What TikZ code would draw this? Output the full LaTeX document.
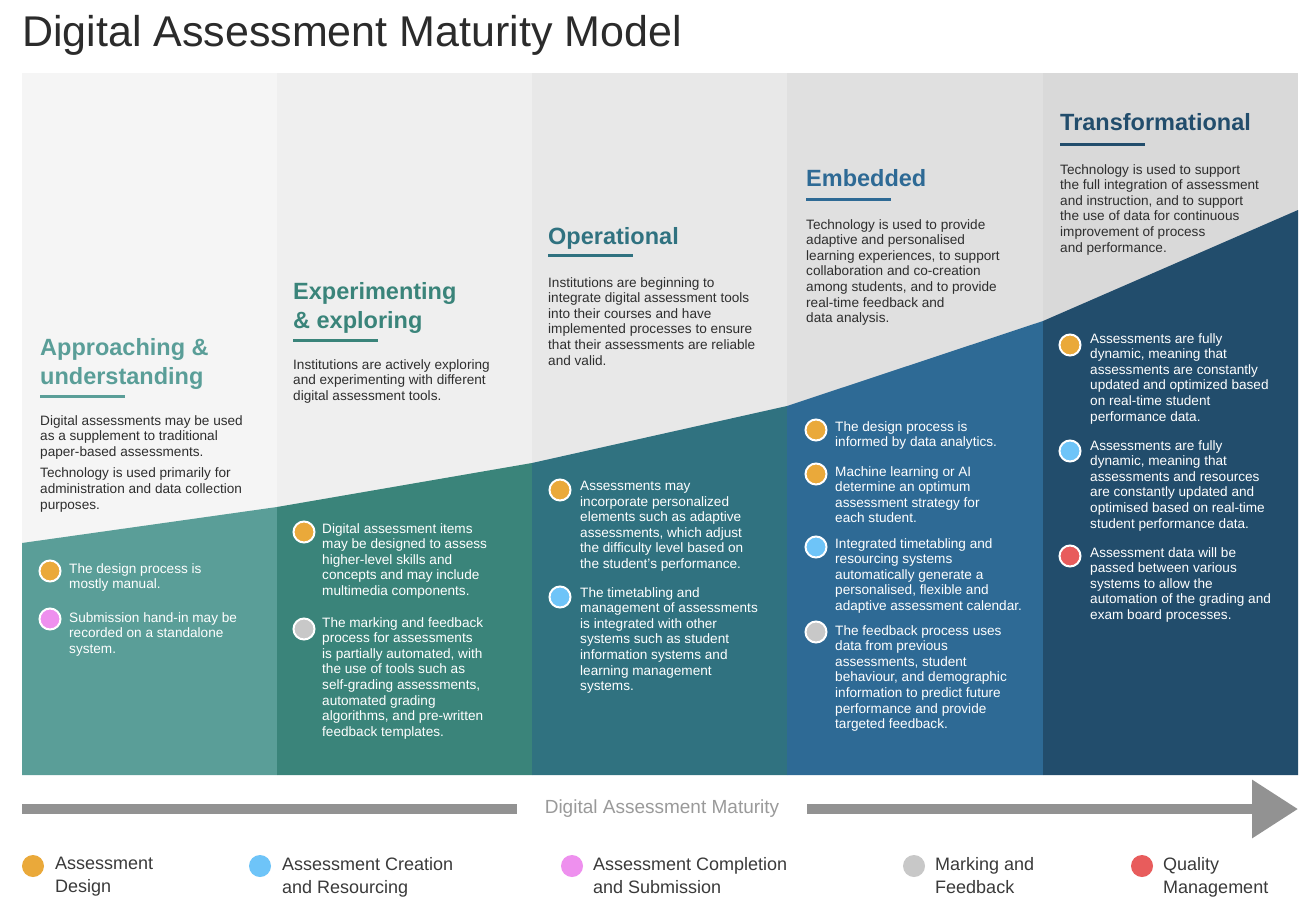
\documentclass[tikz,border=0pt]{standalone}
\usepackage{fontspec}
\setmainfont{Liberation Sans}
\usepackage{xcolor}
\usepackage{tikz}
\usetikzlibrary{positioning,arrows.meta}
\definecolor{inkgray}{HTML}{2B2B2B}
\definecolor{bodygray}{HTML}{2E2E2E}
\definecolor{keygray}{HTML}{3A3A3A}
\definecolor{arrowgray}{HTML}{929292}
\definecolor{labelgray}{HTML}{9A9A9A}
\definecolor{topA}{HTML}{F5F5F5}
\definecolor{topB}{HTML}{EFEFEF}
\definecolor{topC}{HTML}{E8E8E8}
\definecolor{topD}{HTML}{E0E0E0}
\definecolor{topE}{HTML}{D9D9D9}
\definecolor{stageA}{HTML}{5A9E98}
\definecolor{stageB}{HTML}{3A847A}
\definecolor{stageC}{HTML}{307280}
\definecolor{stageD}{HTML}{2E6A95}
\definecolor{stageE}{HTML}{224D6C}
\definecolor{dotdesign}{HTML}{EAA93A}
\definecolor{dotcreate}{HTML}{6EC4F8}
\definecolor{dotsubmit}{HTML}{EE90EE}
\definecolor{dotmark}{HTML}{C8C8C8}
\definecolor{dotquality}{HTML}{E85C5C}

\begin{document}
\begin{tikzpicture}[
    x=1pt, y=-1pt,
    stagetitle/.style={anchor=north west, inner sep=0pt, align=left, font=\fontsize{23.5}{29}\selectfont\bfseries, text=#1},
    stagetext/.style={anchor=north west, inner sep=0pt, align=left, font=\fontsize{13.6}{15.6}\selectfont, text=bodygray},
    itemtext/.style={anchor=north west, inner sep=0pt, align=left, font=\fontsize{13.6}{15.6}\selectfont, text=white},
    itemdot/.style={circle, fill=#1, draw=white, line width=2pt, minimum size=21pt, inner sep=0pt},
    keydot/.style={circle, fill=#1, minimum size=22pt, inner sep=0pt},
    keytext/.style={anchor=north west, inner sep=0pt, align=left, font=\fontsize{18}{23}\selectfont, text=keygray},
    rule/.style={line width=3pt, #1},
]
    \useasboundingbox (0,0) rectangle (1316,918);
    \fill[white] (0,0) rectangle (1316,918);

    % Title
    \node[anchor=north west, inner sep=0pt, font=\fontsize{43}{50}\selectfont, text=inkgray] (title) at (22,15) {Digital Assessment Maturity Model};

    % Five stage columns, light top and coloured bottom
    \foreach \xa/\xb/\ya/\yb/\tc/\bc in {22/277/543/507/topA/stageA, 277/532/507/463/topB/stageB, 532/787/463/406/topC/stageC, 787/1043/406/321/topD/stageD, 1043/1298/321/210/topE/stageE} {
        \fill[\tc] (\xa,73) rectangle (\xb,775);
        \fill[\bc] (\xa,\ya) -- (\xb,\yb) -- (\xb,775) -- (\xa,775) -- cycle;
    }

    % Approaching & understanding
    \node[stagetitle=stageA] (t1) at (40,338) {Approaching \&\\understanding};
    \draw[rule=stageA] (40,396) -- ++(85,0);
    \node[stagetext] (d1) at (40,415) {Digital assessments may be used\\as a supplement to traditional\\paper-based assessments.\\[6pt]Technology is used primarily for\\administration and data collection\\purposes.};
    \node[itemdot=dotdesign] (b1a) at (50,571) {};
    \node[itemtext] (i1a) at (69,563) {The design process is\\mostly manual.};
    \node[itemdot=dotsubmit] (b1b) at (50,619) {};
    \node[itemtext] (i1b) at (69,612) {Submission hand-in may be\\recorded on a standalone\\system.};

    % Experimenting & exploring
    \node[stagetitle=stageB] (t2) at (293,282) {Experimenting\\\& exploring};
    \draw[rule=stageB] (293,340) -- ++(85,0);
    \node[stagetext] (d2) at (293,359) {Institutions are actively exploring\\and experimenting with different\\digital assessment tools.};
    \node[itemdot=dotdesign] (b2a) at (304,532) {};
    \node[itemtext] (i2a) at (322,523) {Digital assessment items\\may be designed to assess\\higher-level skills and\\concepts and may include\\multimedia components.};
    \node[itemdot=dotmark] (b2b) at (304,629) {};
    \node[itemtext] (i2b) at (322,617) {The marking and feedback\\process for assessments\\is partially automated, with\\the use of tools such as\\self-grading assessments,\\automated grading\\algorithms, and pre-written\\feedback templates.};

    % Operational
    \node[stagetitle=stageC] (t3) at (548,227) {Operational};
    \draw[rule=stageC] (548,255) -- ++(85,0);
    \node[stagetext] (d3) at (548,277) {Institutions are beginning to\\integrate digital assessment tools\\into their courses and have\\implemented processes to ensure\\that their assessments are reliable\\and valid.};
    \node[itemdot=dotdesign] (b3a) at (560,490) {};
    \node[itemtext] (i3a) at (580,481) {Assessments may\\incorporate personalized\\elements such as adaptive\\assessments, which adjust\\the difficulty level based on\\the student's performance.};
    \node[itemdot=dotcreate] (b3b) at (560,597) {};
    \node[itemtext] (i3b) at (580,587) {The timetabling and\\management of assessments\\is integrated with other\\systems such as student\\information systems and\\learning management\\systems.};

    % Embedded
    \node[stagetitle=stageD] (t4) at (806,169) {Embedded};
    \draw[rule=stageD] (806,199) -- ++(85,0);
    \node[stagetext] (d4) at (806,219) {Technology is used to provide\\adaptive and personalised\\learning experiences, to support\\collaboration and co-creation\\among students, and to provide\\real-time feedback and\\data analysis.};
    \node[itemdot=dotdesign] (b4a) at (816,430) {};
    \node[itemtext] (i4a) at (835,421) {The design process is\\informed by data analytics.};
    \node[itemdot=dotdesign] (b4b) at (816,474) {};
    \node[itemtext] (i4b) at (835,466) {Machine learning or AI\\determine an optimum\\assessment strategy for\\each student.};
    \node[itemdot=dotcreate] (b4c) at (816,547) {};
    \node[itemtext] (i4c) at (835,538) {Integrated timetabling and\\resourcing systems\\automatically generate a\\personalised, flexible and\\adaptive assessment calendar.};
    \node[itemdot=dotmark] (b4d) at (816,632) {};
    \node[itemtext] (i4d) at (835,625) {The feedback process uses\\data from previous\\assessments, student\\behaviour, and demographic\\information to predict future\\performance and provide\\targeted feedback.};

    % Transformational
    \node[stagetitle=stageE] (t5) at (1060,113) {Transformational};
    \draw[rule=stageE] (1060,144) -- ++(85,0);
    \node[stagetext] (d5) at (1060,164) {Technology is used to support\\the full integration of assessment\\and instruction, and to support\\the use of data for continuous\\improvement of process\\and performance.};
    \node[itemdot=dotdesign] (b5a) at (1070,345) {};
    \node[itemtext] (i5a) at (1090,333) {Assessments are fully\\dynamic, meaning that\\assessments are constantly\\updated and optimized based\\on real-time student\\performance data.};
    \node[itemdot=dotcreate] (b5b) at (1070,451) {};
    \node[itemtext] (i5b) at (1090,440) {Assessments are fully\\dynamic, meaning that\\assessments and resources\\are constantly updated and\\optimised based on real-time\\student performance data.};
    \node[itemdot=dotquality] (b5c) at (1070,556) {};
    \node[itemtext] (i5c) at (1090,547) {Assessment data will be\\passed between various\\systems to allow the\\automation of the grading and\\exam board processes.};

    % Maturity arrow
    \coordinate (axis_start) at (22,809);
    \coordinate (axis_tip) at (1298,809);
    \node[inner xsep=28pt, inner ysep=0pt, font=\fontsize{19}{22}\selectfont, text=labelgray] (maturity) at (662,809) {Digital Assessment Maturity};
    \draw[arrowgray, line width=10pt] (axis_start) -- (maturity.west);
    \draw[arrowgray, line width=10pt, -{Triangle[length=46pt,width=56pt]}] (maturity.east) -- (axis_tip);

    % Legend
    \node[keydot=dotdesign] (k1) at (33,866) {};
    \node[keytext] (l1) at (55,857) {Assessment\\Design};
    \node[keydot=dotcreate] (k2) at (260,866) {};
    \node[keytext] (l2) at (282,857) {Assessment Creation\\and Resourcing};
    \node[keydot=dotsubmit] (k3) at (572,866) {};
    \node[keytext] (l3) at (593,857) {Assessment Completion\\and Submission};
    \node[keydot=dotmark] (k4) at (914,866) {};
    \node[keytext] (l4) at (935,857) {Marking and\\Feedback};
    \node[keydot=dotquality] (k5) at (1142,866) {};
    \node[keytext] (l5) at (1163,857) {Quality\\Management};
\end{tikzpicture}
\end{document}
